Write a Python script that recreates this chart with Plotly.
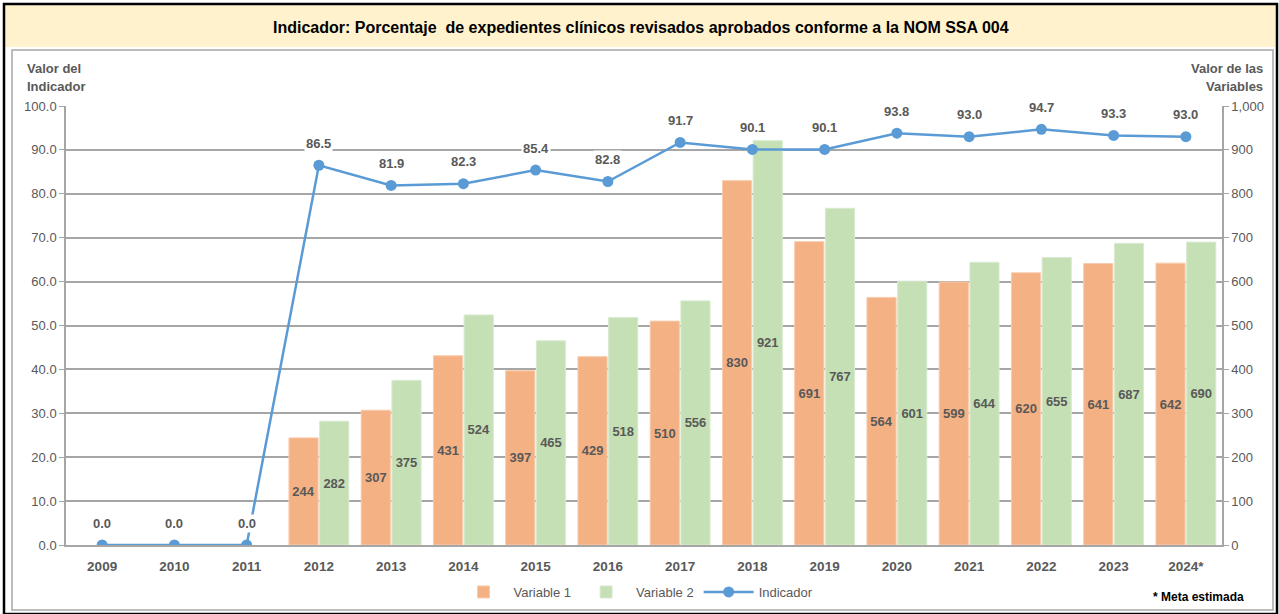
import plotly.graph_objects as go

categories = ["2009", "2010", "2011", "2012", "2013", "2014", "2015", "2016",
              "2017", "2018", "2019", "2020", "2021", "2022", "2023", "2024*"]
variable_1 = [None, None, None, 244, 307, 431, 397, 429, 510, 830, 691, 564, 599, 620, 641, 642]
variable_2 = [None, None, None, 282, 375, 524, 465, 518, 556, 921, 767, 601, 644, 655, 687, 690]
indicador = [0.0, 0.0, 0.0, 86.5, 81.9, 82.3, 85.4, 82.8, 91.7, 90.1, 90.1, 93.8, 93.0, 94.7, 93.3, 93.0]
left_ticks = [0, 10, 20, 30, 40, 50, 60, 70, 80, 90, 100]
right_ticks = [0, 100, 200, 300, 400, 500, 600, 700, 800, 900, 1000]

W, H = 1279, 614
L, R, T, B = 66, 1222, 106, 545

def px(x):
    return (x - L) / (R - L)

def py(y):
    return (B - y) / (B - T)

GRAY = "#595959"
FONT = "Liberation Sans, Arial, sans-serif"

fig = go.Figure()
fig.add_trace(go.Bar(
    x=categories, y=variable_1, name="Variable 1", yaxis="y",
    marker=dict(color="#F4B183", line=dict(color="#F8CBAD", width=1)),
    text=[("" if v is None else f"{v}") for v in variable_1],
    textposition="inside", insidetextanchor="middle", textangle=0,
    constraintext="none",
    textfont=dict(family=FONT, size=13, color=GRAY, weight="bold"),
))
fig.add_trace(go.Bar(
    x=categories, y=variable_2, name="Variable 2", yaxis="y",
    marker=dict(color="#C5E0B4", line=dict(color="#D9EAD0", width=1)),
    text=[("" if v is None else f"{v}") for v in variable_2],
    textposition="inside", insidetextanchor="middle", textangle=0,
    constraintext="none",
    textfont=dict(family=FONT, size=13, color=GRAY, weight="bold"),
))
fig.add_trace(go.Scatter(
    x=categories, y=indicador, name="Indicador", yaxis="y2",
    mode="lines+markers",
    line=dict(color="#5B9BD5", width=2.5),
    marker=dict(color="#5B9BD5", size=11),
))

annotations = []
for i, v in enumerate(indicador):
    annotations.append(dict(
        x=i, y=v, xref="x", yref="y2", text=f"<b>{v:.1f}</b>", showarrow=False,
        yshift=22, bgcolor="white", borderpad=1,
        font=dict(family=FONT, size=13, color=GRAY),
    ))

title_font = dict(family=FONT, size=13, color=GRAY)
annotations += [
    dict(x=px(641), y=py(27), xref="paper", yref="paper", showarrow=False,
         text="<b>Indicador: Porcentaje  de expedientes clínicos revisados aprobados conforme a la NOM SSA 004</b>",
         font=dict(family=FONT, size=16, color="black"),
         xanchor="center", yanchor="middle"),
    dict(x=px(25), y=py(68), xref="paper", yref="paper", showarrow=False,
         text="<b>Valor del</b>", font=title_font, xanchor="left", yanchor="middle"),
    dict(x=px(25), y=py(87), xref="paper", yref="paper", showarrow=False,
         text="<b>Indicador</b>", font=title_font, xanchor="left", yanchor="middle"),
    dict(x=px(1265), y=py(68), xref="paper", yref="paper", showarrow=False,
         text="<b>Valor de las</b>", font=title_font, xanchor="right", yanchor="middle"),
    dict(x=px(1265), y=py(87), xref="paper", yref="paper", showarrow=False,
         text="<b>Variables</b>", font=title_font, xanchor="right", yanchor="middle"),
    dict(x=px(1198), y=py(597), xref="paper", yref="paper", showarrow=False,
         text="<b>* Meta estimada</b>",
         font=dict(family=FONT, size=12, color="black"),
         xanchor="center", yanchor="middle"),
]

shapes = [
    dict(type="rect", xref="paper", yref="paper", layer="below",
         x0=px(5), x1=px(1276), y0=py(5), y1=py(47),
         fillcolor="#FFF2CC", line=dict(width=0)),
    dict(type="rect", xref="paper", yref="paper", layer="below",
         x0=px(12), x1=px(1273), y0=py(50), y1=py(610),
         fillcolor="rgba(0,0,0,0)", line=dict(color="#A6A6A6", width=1.5)),
    dict(type="rect", xref="paper", yref="paper", layer="below",
         x0=px(4), x1=px(1277), y0=py(4), y1=py(614),
         fillcolor="rgba(0,0,0,0)", line=dict(color="black", width=2.5)),
]

fig.update_layout(
    width=W, height=H,
    margin=dict(l=L, r=W - R, t=T, b=H - B, pad=0, autoexpand=False),
    paper_bgcolor="white", plot_bgcolor="white",
    barmode="group", bargap=0.15, bargroupgap=0.05,
    showlegend=True,
    legend=dict(orientation="h", x=636 / W, xref="container", xanchor="center",
                y=1 - 592 / H, yref="container", yanchor="middle",
                font=dict(family=FONT, size=13, color=GRAY), bgcolor="rgba(0,0,0,0)",
                itemwidth=50, tracegroupgap=0, borderwidth=0),
    xaxis=dict(type="category", categoryorder="array", categoryarray=categories,
               range=[-0.5, len(categories) - 0.5], automargin=False,
               showgrid=False, showline=True, linecolor="#A6A6A6", linewidth=1.5,
               ticks="", ticklabelstandoff=8,
               tickfont=dict(family=FONT, size=13.5, color=GRAY, weight="bold"),
               fixedrange=True),
    yaxis=dict(side="right", range=[0, 1000], tickvals=right_ticks, automargin=False,
               ticktext=[f"{v:,}" for v in right_ticks],
               showgrid=False, showline=True, linecolor="#A6A6A6", linewidth=1.5,
               ticks="outside", ticklen=5, tickcolor="#A6A6A6",
               tickfont=dict(family=FONT, size=13, color=GRAY), zeroline=False),
    yaxis2=dict(side="left", overlaying="y", range=[0, 100], tickvals=left_ticks,
                automargin=False,
                ticktext=[f"{v:.1f}" for v in left_ticks],
                showgrid=True, gridcolor="#A6A6A6", gridwidth=1.5,
                showline=True, linecolor="#A6A6A6", linewidth=1.5,
                ticks="outside", ticklen=5, tickcolor="#A6A6A6",
                tickfont=dict(family=FONT, size=13, color=GRAY), zeroline=False),
    annotations=annotations,
    shapes=shapes,
)

fig.write_html("out.html", config={"displayModeBar": False},
               post_script="document.body.style.margin='0';")
